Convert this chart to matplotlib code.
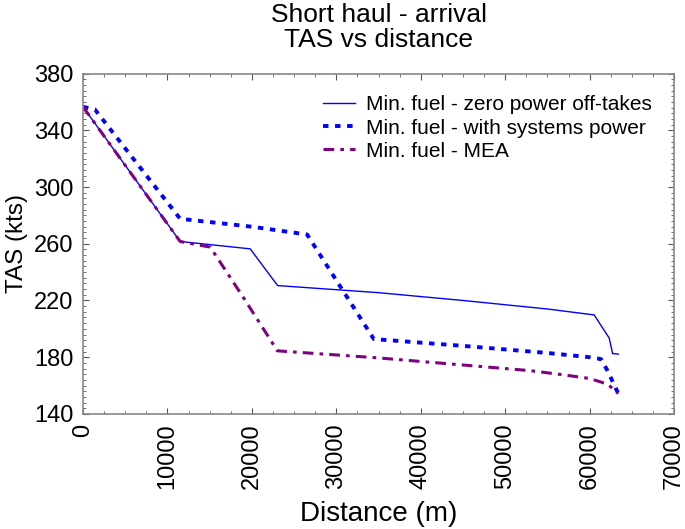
import matplotlib
matplotlib.use("Agg")
import matplotlib.pyplot as plt
from matplotlib.ticker import MultipleLocator, FixedLocator

plt.rcParams['font.family'] = ['Liberation Sans', 'DejaVu Sans']

# Min. fuel - zero power off-takes
x_zero = [0, 11500, 19800, 23050, 35000, 45000, 55000, 60540, 62320, 62720, 63390]
y_zero = [356.5, 261.6, 256.4, 230.5, 225.5, 220.0, 214.0, 209.8, 193.5, 182.6, 182.2]

# Min. fuel - with systems power
x_sys = [0, 1400, 11500, 20000, 26540, 34440, 45000, 55000, 60000, 61340, 62130, 63390]
y_sys = [356.5, 354.7, 277.6, 272.0, 266.5, 192.8, 188.0, 183.0, 180.0, 178.7, 170.4, 154.4]

# Min. fuel - MEA
x_mea = [0, 11500, 15070, 19000, 23020, 35000, 45000, 53000, 57000, 60000, 62130, 63390]
y_mea = [356.5, 261.6, 257.6, 222.0, 184.5, 179.5, 174.5, 170.5, 167.5, 165.0, 161.0, 154.4]

yticks = [140, 180, 220, 260, 300, 340, 380]
xticks = [0, 10000, 20000, 30000, 40000, 50000, 60000, 70000]

title = "Short haul - arrival\nTAS vs distance"
xlabel = "Distance (m)"
ylabel = "TAS (kts)"
labels = ["Min. fuel - zero power off-takes",
          "Min. fuel - with systems power",
          "Min. fuel - MEA"]

fig = plt.figure(figsize=(6.85, 5.29), dpi=100)
ax = fig.add_axes([0.1212, 0.2175, 0.8628, 0.6435])

ax.plot(x_zero, y_zero, color='#0000ff', lw=1.0, label=labels[0])
ax.plot(x_sys, y_sys, color='#0000ff', lw=2.8, linestyle=(0, (1.4, 1.7)),
        dash_capstyle='butt', label=labels[1])
ax.plot(x_mea, y_mea, color='#800080', lw=2.2, linestyle=(0, (3.5, 2.0, 1.2, 2.0)),
        dash_capstyle='butt', label=labels[2])

ax.set_xlim(0, 70000)
ax.set_ylim(140, 380)
ax.xaxis.set_major_locator(FixedLocator(xticks))
ax.xaxis.set_minor_locator(MultipleLocator(2500))
ax.yaxis.set_major_locator(FixedLocator(yticks))
ax.yaxis.set_minor_locator(MultipleLocator(4))
ax.tick_params(which='both', direction='in', top=True, right=True, color='#555555')
ax.tick_params(which='major', length=4, labelsize=17)
ax.tick_params(which='minor', length=2)
ax.tick_params(axis='x', labelrotation=90, pad=7)
ax.tick_params(axis='y', pad=7)
for sp in ax.spines.values():
    sp.set_color('#888888')
    sp.set_linewidth(1.2)

ax.set_xlabel(xlabel, fontsize=20, labelpad=8)
ax.set_ylabel(ylabel, fontsize=17.5, labelpad=4)
ax.set_title(title, fontsize=19, pad=19, linespacing=1.05)

leg = ax.legend(loc='upper right', fontsize=15, frameon=False, handlelength=1.55,
                handletextpad=0.55, labelspacing=0.2, borderaxespad=0.65)

fig.savefig("out.png", dpi=100)
